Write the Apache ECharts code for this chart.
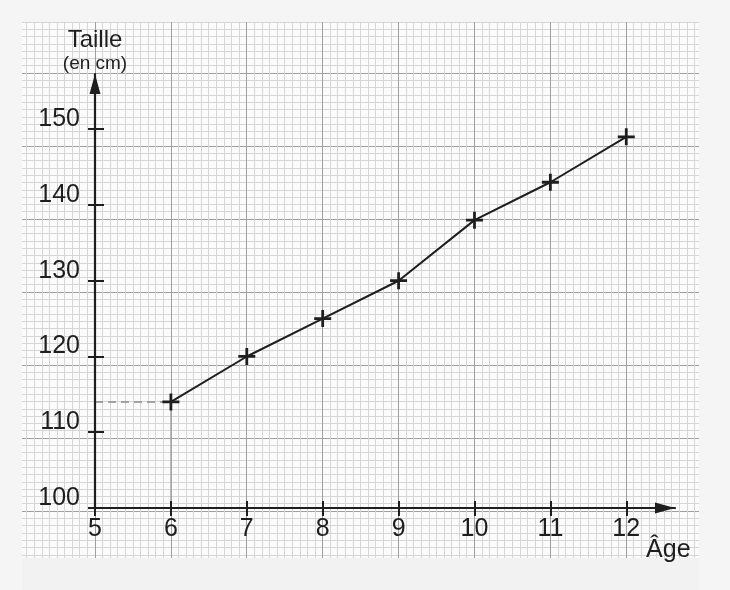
<!DOCTYPE html>
<html>
<head>
<meta charset="utf-8">
<script src="https://cdn.jsdelivr.net/npm/echarts@6/dist/echarts.min.js"></script>
<style>
  html, body { margin: 0; padding: 0; background: #f6f6f6; }
  #chart { width: 730px; height: 590px; }
</style>
</head>
<body>
<div id="chart"></div>
<script>
// ---- data ----
const ages = [6, 7, 8, 9, 10, 11, 12];
const heights = [114, 120, 125, 130, 138, 143, 149];
const xTickValues = [5, 6, 7, 8, 9, 10, 11, 12];
const yTickValues = [100, 110, 120, 130, 140, 150];
const yTitle = 'Taille';
const yUnit = '(en cm)';
const xTitle = 'Âge';

const ink = '#1e1e1e';
const font = 'Liberation Sans';
const plusPath = 'path://M6.7 0H9.3V6.7H16V9.3H9.3V16H6.7V9.3H0V6.7H6.7Z';

const chart = echarts.init(document.getElementById('chart'), null, { renderer: 'canvas' });

const hiddenAxis = {
  axisLine: { show: false }, axisTick: { show: false }, axisLabel: { show: false }
};

const option = {
  backgroundColor: '#fbfbfb',
  animation: false,
  grid: [
    { left: 19, right: 28, top: -22, bottom: 6 },      // graph paper
    { left: 95, right: 55, top: 74, bottom: 82 }       // chart axes
  ],
  xAxis: [
    Object.assign({
      type: 'value', gridIndex: 0, min: 4, max: 13, interval: 1, z: 0,
      splitLine: { show: true, lineStyle: { color: '#a0a0a0', width: 1 } },
      minorTick: { show: false, splitNumber: 10 },
      minorSplitLine: { show: true, lineStyle: { color: '#d6d6d6', width: 1 } }
    }, hiddenAxis),
    {
      type: 'value', gridIndex: 1, position: 'bottom', min: 5, max: 12.642, interval: 1, z: 8,
      splitLine: { show: false },
      axisLine: { show: true, lineStyle: { color: ink, width: 2.2 },
        symbol: ['none', 'triangle'], symbolSize: [11, 20], symbolOffset: [0, -10] },
      axisTick: { show: true, customValues: xTickValues, length: 8, lineStyle: { color: ink, width: 2 } },
      axisLabel: { show: true, customValues: xTickValues, margin: 9, color: ink,
        fontFamily: font, fontSize: 25, lineHeight: 25 },
      name: xTitle, nameLocation: 'end', nameGap: 12,
      nameTextStyle: { color: ink, fontFamily: font, fontSize: 25, align: 'right',
        verticalAlign: 'top', padding: [30, 0, 0, 0] }
    },
    {
      type: 'value', gridIndex: 1, position: 'bottom', min: 5, max: 12.642, interval: 1, z: 8,
      splitLine: { show: false }, axisLine: { show: false }, axisLabel: { show: false },
      axisTick: { show: true, inside: true, customValues: xTickValues, length: 7, lineStyle: { color: ink, width: 2 } }
    }
  ],
  yAxis: [
    Object.assign({
      type: 'value', gridIndex: 0, min: 90, max: 170, interval: 10, z: 0,
      splitLine: { show: true, lineStyle: { color: '#a0a0a0', width: 1 } },
      minorTick: { show: false, splitNumber: 10 },
      minorSplitLine: { show: true, lineStyle: { color: '#d6d6d6', width: 1 } }
    }, hiddenAxis),
    {
      type: 'value', gridIndex: 1, position: 'left', min: 100, max: 157.29, interval: 10, z: 8,
      splitLine: { show: false },
      axisLine: { show: true, lineStyle: { color: ink, width: 2.2 },
        symbol: ['none', 'triangle'], symbolSize: [11, 20], symbolOffset: [0, -10] },
      axisTick: { show: true, customValues: yTickValues, length: 7, lineStyle: { color: ink, width: 2 } },
      axisLabel: { show: true, customValues: yTickValues, margin: 15, color: ink,
        fontFamily: font, fontSize: 25, lineHeight: 20, verticalAlign: 'bottom' },
      name: '{t|' + yTitle + '}\n{u|' + yUnit + '}', nameLocation: 'end', nameGap: 1,
      nameTextStyle: { align: 'center', verticalAlign: 'bottom',
        rich: {
          t: { fontFamily: font, fontSize: 24, lineHeight: 28, color: ink },
          u: { fontFamily: font, fontSize: 19, lineHeight: 19, color: ink }
        } }
    },
    {
      type: 'value', gridIndex: 1, position: 'left', min: 100, max: 157.29, interval: 10, z: 8,
      splitLine: { show: false }, axisLine: { show: false }, axisLabel: { show: false },
      axisTick: { show: true, inside: true, customValues: yTickValues, length: 9, lineStyle: { color: ink, width: 2 } }
    }
  ],
  graphic: {
    z: 4,
    elements: [
      { type: 'rect', z: 4, shape: { x: 0, y: 0, width: 730, height: 22 }, style: { fill: '#f5f5f5' } },
      { type: 'rect', z: 4, shape: { x: 0, y: 558, width: 730, height: 32 }, style: { fill: '#f2f2f2' } },
      { type: 'rect', z: 4, shape: { x: 0, y: 0, width: 22, height: 590 }, style: { fill: '#f5f5f5' } },
      { type: 'rect', z: 4, shape: { x: 699, y: 0, width: 31, height: 590 }, style: { fill: '#f5f5f5' } }
    ]
  },
  series: [{
    type: 'line',
    xAxisIndex: 1, yAxisIndex: 1,
    data: ages.map((a, i) => [a, heights[i]]),
    lineStyle: { color: ink, width: 2 },
    itemStyle: { color: ink },
    symbol: plusPath, symbolSize: 17,
    z: 9,
    markLine: {
      silent: true, symbol: ['none', 'none'], label: { show: false },
      data: [
        [ { coord: [xTickValues[0], heights[0]], lineStyle: { type: [8, 5], color: '#8c8c8c', width: 1.6 } },
          { coord: [ages[0], heights[0]] } ],
        [ { coord: [ages[0], yTickValues[0]], lineStyle: { type: 'solid', color: '#a8a8a8', width: 1.6 } },
          { coord: [ages[0], heights[0]] } ]
      ]
    }
  }]
};

chart.setOption(option);
</script>
</body>
</html>
